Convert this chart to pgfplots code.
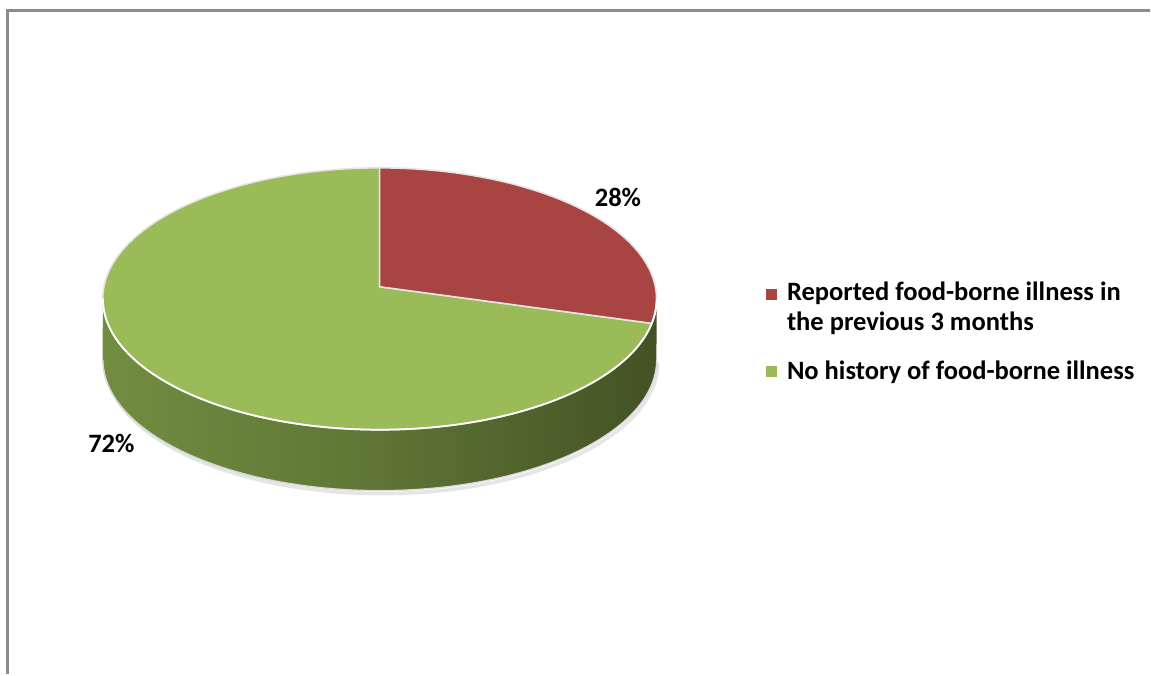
\documentclass[border=0pt]{standalone}
\usepackage{pgfplots}
\pgfplotsset{compat=1.18}
\usepackage{pgfplotstable}
\usepackage{fontspec}
\setmainfont{Carlito}
\definecolor{redslice}{HTML}{A84441}
\definecolor{greenslice}{HTML}{9BBB59}
\definecolor{sideA}{HTML}{86A54D}
\definecolor{sideB}{HTML}{5E7535}
\definecolor{sideC}{HTML}{3D4B21}
\definecolor{framecol}{HTML}{8C8C8C}
\pgfdeclarehorizontalshading{sideshade}{100bp}{color(0bp)=(sideA); color(50bp)=(sideB); color(80bp)=(sideC); color(100bp)=(sideC)}
\pgfplotstableread{
share
28
72
}\piedata
\begin{document}
\begin{tikzpicture}
\pgfplotstablegetelem{0}{share}\of\piedata \let\shareA\pgfplotsretval
\pgfplotstablegetelem{1}{share}\of\piedata \let\shareB\pgfplotsretval
\pgfmathsetmacro{\angA}{90-3.6*\shareA}
\pgfmathsetmacro{\angG}{90+3.6*\shareB}
\begin{axis}[x=0.01cm,y=0.01cm,xmin=0,xmax=1151,ymin=0,ymax=675,hide axis,clip=false,scale only axis]
\path (axis cs:0,0) rectangle (axis cs:1151,675);
% frame
\draw[framecol,line width=0.6pt] (axis cs:1151,664.5) -- (axis cs:7.5,664.5) -- (axis cs:7.5,0);
% shadow
\draw[black!10,line width=1pt] (axis cs:106,312) arc[start angle=180,end angle=360,x radius=2.76cm,y radius=1.31cm];
% side
\path[shading=sideshade] (axis cs:103,376) arc[start angle=180,end angle=360,x radius=2.77cm,y radius=1.31cm]
  -- (axis cs:657,315) arc[start angle=360,end angle=180,x radius=2.77cm,y radius=1.31cm] -- cycle;
\draw[white!85!black,line width=0.4pt] (axis cs:103,315) arc[start angle=180,end angle=360,x radius=2.77cm,y radius=1.31cm];
% top slices
\filldraw[fill=greenslice,draw=white!90!black,line width=0.45pt] (axis cs:380,388) -- (axis cs:380,507)
  arc[start angle=90,end angle=\angG,x radius=2.77cm,y radius=1.31cm] -- cycle;
\filldraw[fill=redslice,draw=white!90!black,line width=0.45pt] (axis cs:380,388) -- (axis cs:380,507)
  arc[start angle=90,end angle=\angA,x radius=2.77cm,y radius=1.31cm] -- cycle;
\draw[white,line width=0.5pt] (axis cs:103,376) arc[start angle=180,end angle=360,x radius=2.77cm,y radius=1.31cm];
% labels
\node[anchor=base,inner sep=0pt,font=\fontsize{7.55}{9}\selectfont\bfseries] at (axis cs:618.5,468) {28\%};
\node[anchor=base,inner sep=0pt,font=\fontsize{7.55}{9}\selectfont\bfseries] at (axis cs:111.5,222) {72\%};
% legend
\fill[redslice] (axis cs:767,386) rectangle (axis cs:778,375);
\fill[greenslice] (axis cs:767,309) rectangle (axis cs:778,298);
\node[anchor=base west,inner sep=0pt,font=\fontsize{7.55}{9}\selectfont\bfseries] at (axis cs:787,374) {Reported food-borne illness in};
\node[anchor=base west,inner sep=0pt,font=\fontsize{7.55}{9}\selectfont\bfseries] at (axis cs:787,344) {the previous 3 months};
\node[anchor=base west,inner sep=0pt,font=\fontsize{7.55}{9}\selectfont\bfseries] at (axis cs:787,295) {No history of food-borne illness};
\end{axis}
\end{tikzpicture}
\end{document}
